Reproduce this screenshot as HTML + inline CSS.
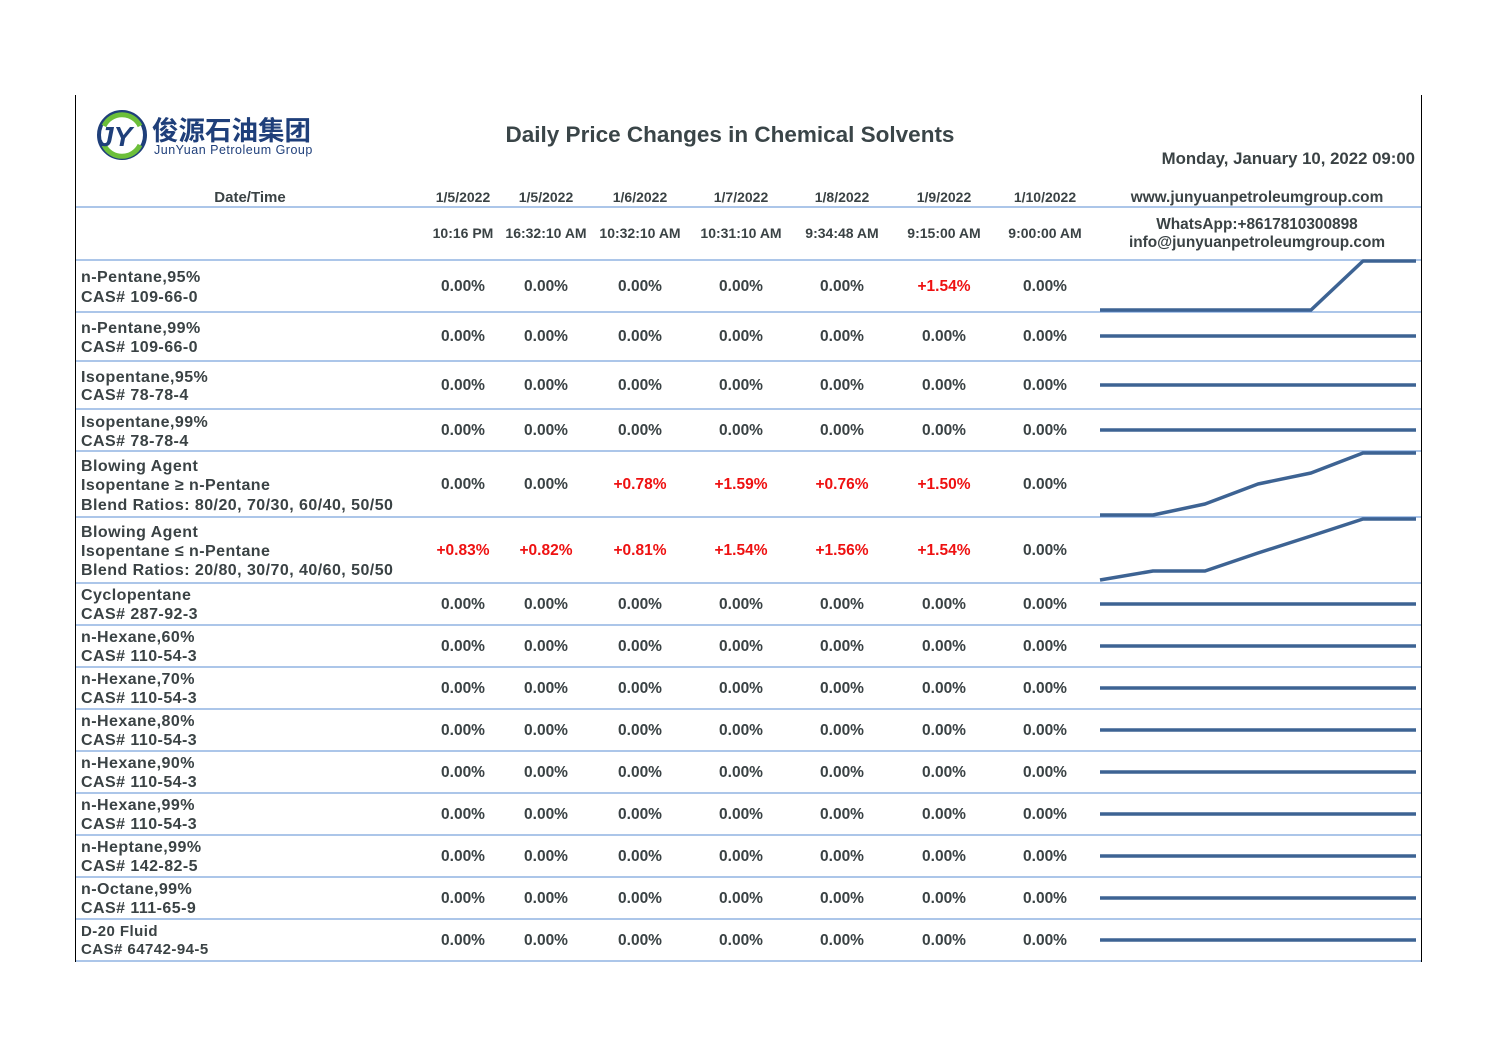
<!DOCTYPE html>
<html><head><meta charset="utf-8"><style>
html,body{margin:0;padding:0;background:#fff;}
svg{display:block}
text{font-family:"Liberation Sans",Arial,sans-serif;font-weight:bold;fill:#3a4244}
.h{font-size:14px;text-anchor:middle}
.v{font-size:15.5px;text-anchor:middle}
.r{fill:#ee1111}
.l{font-size:16px;letter-spacing:0.45px}
</style></head><body>
<svg width="1497" height="1058" viewBox="0 0 1497 1058" xmlns="http://www.w3.org/2000/svg">
<rect width="1497" height="1058" fill="#fff"/>
<line x1="75.5" y1="95" x2="75.5" y2="962" stroke="#000" stroke-width="1"/>
<line x1="1421.5" y1="95" x2="1421.5" y2="962" stroke="#000" stroke-width="1"/>
<g stroke="#7aa3dc" stroke-width="1.3">
<line x1="76" y1="207" x2="1421" y2="207"/>
<line x1="76" y1="260" x2="1421" y2="260"/>
<line x1="76" y1="312" x2="1421" y2="312"/>
<line x1="76" y1="361" x2="1421" y2="361"/>
<line x1="76" y1="409" x2="1421" y2="409"/>
<line x1="76" y1="451" x2="1421" y2="451"/>
<line x1="76" y1="517" x2="1421" y2="517"/>
<line x1="76" y1="583" x2="1421" y2="583"/>
<line x1="76" y1="625" x2="1421" y2="625"/>
<line x1="76" y1="667" x2="1421" y2="667"/>
<line x1="76" y1="709" x2="1421" y2="709"/>
<line x1="76" y1="751" x2="1421" y2="751"/>
<line x1="76" y1="793" x2="1421" y2="793"/>
<line x1="76" y1="835" x2="1421" y2="835"/>
<line x1="76" y1="877" x2="1421" y2="877"/>
<line x1="76" y1="919" x2="1421" y2="919"/>
<line x1="76" y1="961" x2="1421" y2="961"/>
</g>
<!-- logo -->
<circle cx="122" cy="135" r="23" fill="none" stroke="#1f3f7a" stroke-width="4"/>
<path d="M104 126 A20 20 0 0 1 140 126" fill="none" stroke="#6cbf3a" stroke-width="5"/>
<path d="M104 145 A20 20 0 0 0 140 145" fill="none" stroke="#6cbf3a" stroke-width="5"/>
<text x="98" y="146" style="font-size:28px;font-style:italic;fill:#1f3f7a;font-weight:900">JY</text>
<text x="152" y="140" style="font-size:26.5px;fill:#1f3f7a;font-family:'Noto Sans CJK SC','WenQuanYi Zen Hei',sans-serif;font-weight:bold">俊源石油集团</text>
<text x="154" y="154" style="font-size:12.5px;letter-spacing:0.5px;fill:#1f3f7a;font-weight:normal">JunYuan Petroleum Group</text>
<text x="730" y="142" style="font-size:22.5px;text-anchor:middle;fill:#3a4548">Daily Price Changes in Chemical Solvents</text>
<text x="1415" y="164" style="font-size:16.8px;text-anchor:end">Monday, January 10, 2022 09:00</text>
<text x="250" y="202" class="h" style="font-size:15px">Date/Time</text>
<g class="h">
<text x="463" y="202" class="h">1/5/2022</text><text x="546" y="202" class="h">1/5/2022</text><text x="640" y="202" class="h">1/6/2022</text><text x="741" y="202" class="h">1/7/2022</text><text x="842" y="202" class="h">1/8/2022</text><text x="944" y="202" class="h">1/9/2022</text><text x="1045" y="202" class="h">1/10/2022</text>
<text x="463" y="238" class="h">10:16 PM</text><text x="546" y="238" class="h">16:32:10 AM</text><text x="640" y="238" class="h">10:32:10 AM</text><text x="741" y="238" class="h">10:31:10 AM</text><text x="842" y="238" class="h">9:34:48 AM</text><text x="944" y="238" class="h">9:15:00 AM</text><text x="1045" y="238" class="h">9:00:00 AM</text>
</g>
<text x="1257" y="202" class="h" style="font-size:15.4px">www.junyuanpetroleumgroup.com</text>
<text x="1257" y="229" class="h" style="font-size:15.4px">WhatsApp:+8617810300898</text>
<text x="1257" y="247" class="h" style="font-size:15.4px">info@junyuanpetroleumgroup.com</text>
<!-- labels -->
<g class="l">
<text x="81" y="282" class="l">n-Pentane,95%</text><text x="81" y="302" class="l">CAS# 109-66-0</text>
<text x="81" y="333" class="l">n-Pentane,99%</text><text x="81" y="352" class="l">CAS# 109-66-0</text>
<text x="81" y="382" class="l">Isopentane,95%</text><text x="81" y="400" class="l">CAS# 78-78-4</text>
<text x="81" y="427" class="l">Isopentane,99%</text><text x="81" y="446" class="l">CAS# 78-78-4</text>
<text x="81" y="471" class="l">Blowing Agent</text><text x="81" y="490" class="l">Isopentane ≥ n-Pentane</text><text x="81" y="510" class="l">Blend Ratios: 80/20, 70/30, 60/40, 50/50</text>
<text x="81" y="537" class="l">Blowing Agent</text><text x="81" y="556" class="l">Isopentane ≤ n-Pentane</text><text x="81" y="575" class="l">Blend Ratios: 20/80, 30/70, 40/60, 50/50</text>
<text x="81" y="600" class="l">Cyclopentane</text><text x="81" y="619" class="l">CAS# 287-92-3</text>
<text x="81" y="642" class="l">n-Hexane,60%</text><text x="81" y="661" class="l">CAS# 110-54-3</text>
<text x="81" y="684" class="l">n-Hexane,70%</text><text x="81" y="703" class="l">CAS# 110-54-3</text>
<text x="81" y="726" class="l">n-Hexane,80%</text><text x="81" y="745" class="l">CAS# 110-54-3</text>
<text x="81" y="768" class="l">n-Hexane,90%</text><text x="81" y="787" class="l">CAS# 110-54-3</text>
<text x="81" y="810" class="l">n-Hexane,99%</text><text x="81" y="829" class="l">CAS# 110-54-3</text>
<text x="81" y="852" class="l">n-Heptane,99%</text><text x="81" y="871" class="l">CAS# 142-82-5</text>
<text x="81" y="894" class="l">n-Octane,99%</text><text x="81" y="913" class="l">CAS# 111-65-9</text>
<text x="81" y="936" style="font-size:15px">D-20 Fluid</text><text x="81" y="954" style="font-size:15px">CAS# 64742-94-5</text>
</g>
<g fill="none" stroke="#3d6393" stroke-width="3.5" stroke-linejoin="round">
<polyline points="1100,310 1311,310 1363,261 1416,261"/>
<polyline points="1100,336 1416,336"/>
<polyline points="1100,385 1416,385"/>
<polyline points="1100,430 1416,430"/>
<polyline points="1100,515 1153,515 1205,504 1258,484 1311,473 1363,453 1416,453"/>
<polyline points="1100,580 1153,571 1205,571 1258,553 1311,536 1363,519 1416,519"/>
<polyline points="1100,604 1416,604"/>
<polyline points="1100,646 1416,646"/>
<polyline points="1100,688 1416,688"/>
<polyline points="1100,730 1416,730"/>
<polyline points="1100,772 1416,772"/>
<polyline points="1100,814 1416,814"/>
<polyline points="1100,856 1416,856"/>
<polyline points="1100,898 1416,898"/>
<polyline points="1100,940 1416,940"/>
</g>
<g class="v">
<text x="463" y="291" class="v">0.00%</text><text x="546" y="291" class="v">0.00%</text><text x="640" y="291" class="v">0.00%</text><text x="741" y="291" class="v">0.00%</text><text x="842" y="291" class="v">0.00%</text><text x="944" y="291" class="v r">+1.54%</text><text x="1045" y="291" class="v">0.00%</text>
<text x="463" y="341" class="v">0.00%</text><text x="546" y="341" class="v">0.00%</text><text x="640" y="341" class="v">0.00%</text><text x="741" y="341" class="v">0.00%</text><text x="842" y="341" class="v">0.00%</text><text x="944" y="341" class="v">0.00%</text><text x="1045" y="341" class="v">0.00%</text>
<text x="463" y="390" class="v">0.00%</text><text x="546" y="390" class="v">0.00%</text><text x="640" y="390" class="v">0.00%</text><text x="741" y="390" class="v">0.00%</text><text x="842" y="390" class="v">0.00%</text><text x="944" y="390" class="v">0.00%</text><text x="1045" y="390" class="v">0.00%</text>
<text x="463" y="435" class="v">0.00%</text><text x="546" y="435" class="v">0.00%</text><text x="640" y="435" class="v">0.00%</text><text x="741" y="435" class="v">0.00%</text><text x="842" y="435" class="v">0.00%</text><text x="944" y="435" class="v">0.00%</text><text x="1045" y="435" class="v">0.00%</text>
<text x="463" y="489" class="v">0.00%</text><text x="546" y="489" class="v">0.00%</text><text x="640" y="489" class="v r">+0.78%</text><text x="741" y="489" class="v r">+1.59%</text><text x="842" y="489" class="v r">+0.76%</text><text x="944" y="489" class="v r">+1.50%</text><text x="1045" y="489" class="v">0.00%</text>
<text x="463" y="555" class="v r">+0.83%</text><text x="546" y="555" class="v r">+0.82%</text><text x="640" y="555" class="v r">+0.81%</text><text x="741" y="555" class="v r">+1.54%</text><text x="842" y="555" class="v r">+1.56%</text><text x="944" y="555" class="v r">+1.54%</text><text x="1045" y="555" class="v">0.00%</text>
<text x="463" y="609" class="v">0.00%</text><text x="546" y="609" class="v">0.00%</text><text x="640" y="609" class="v">0.00%</text><text x="741" y="609" class="v">0.00%</text><text x="842" y="609" class="v">0.00%</text><text x="944" y="609" class="v">0.00%</text><text x="1045" y="609" class="v">0.00%</text>
<text x="463" y="651" class="v">0.00%</text><text x="546" y="651" class="v">0.00%</text><text x="640" y="651" class="v">0.00%</text><text x="741" y="651" class="v">0.00%</text><text x="842" y="651" class="v">0.00%</text><text x="944" y="651" class="v">0.00%</text><text x="1045" y="651" class="v">0.00%</text>
<text x="463" y="693" class="v">0.00%</text><text x="546" y="693" class="v">0.00%</text><text x="640" y="693" class="v">0.00%</text><text x="741" y="693" class="v">0.00%</text><text x="842" y="693" class="v">0.00%</text><text x="944" y="693" class="v">0.00%</text><text x="1045" y="693" class="v">0.00%</text>
<text x="463" y="735" class="v">0.00%</text><text x="546" y="735" class="v">0.00%</text><text x="640" y="735" class="v">0.00%</text><text x="741" y="735" class="v">0.00%</text><text x="842" y="735" class="v">0.00%</text><text x="944" y="735" class="v">0.00%</text><text x="1045" y="735" class="v">0.00%</text>
<text x="463" y="777" class="v">0.00%</text><text x="546" y="777" class="v">0.00%</text><text x="640" y="777" class="v">0.00%</text><text x="741" y="777" class="v">0.00%</text><text x="842" y="777" class="v">0.00%</text><text x="944" y="777" class="v">0.00%</text><text x="1045" y="777" class="v">0.00%</text>
<text x="463" y="819" class="v">0.00%</text><text x="546" y="819" class="v">0.00%</text><text x="640" y="819" class="v">0.00%</text><text x="741" y="819" class="v">0.00%</text><text x="842" y="819" class="v">0.00%</text><text x="944" y="819" class="v">0.00%</text><text x="1045" y="819" class="v">0.00%</text>
<text x="463" y="861" class="v">0.00%</text><text x="546" y="861" class="v">0.00%</text><text x="640" y="861" class="v">0.00%</text><text x="741" y="861" class="v">0.00%</text><text x="842" y="861" class="v">0.00%</text><text x="944" y="861" class="v">0.00%</text><text x="1045" y="861" class="v">0.00%</text>
<text x="463" y="903" class="v">0.00%</text><text x="546" y="903" class="v">0.00%</text><text x="640" y="903" class="v">0.00%</text><text x="741" y="903" class="v">0.00%</text><text x="842" y="903" class="v">0.00%</text><text x="944" y="903" class="v">0.00%</text><text x="1045" y="903" class="v">0.00%</text>
<text x="463" y="945" class="v">0.00%</text><text x="546" y="945" class="v">0.00%</text><text x="640" y="945" class="v">0.00%</text><text x="741" y="945" class="v">0.00%</text><text x="842" y="945" class="v">0.00%</text><text x="944" y="945" class="v">0.00%</text><text x="1045" y="945" class="v">0.00%</text>
</g>
</svg>
</body></html>
